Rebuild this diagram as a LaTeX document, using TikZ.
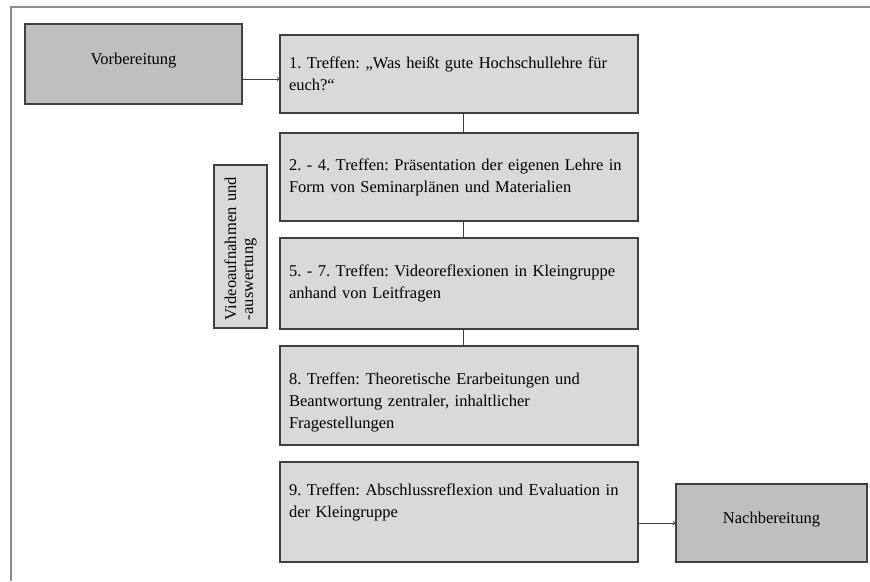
\documentclass[tikz,border=0pt]{standalone}
\usepackage{fontspec}
\setmainfont{Liberation Serif}
\frenchspacing

\definecolor{phasegray}{HTML}{BFBFBF}
\definecolor{meetgray}{HTML}{D9D9D9}
\definecolor{edgegray}{HTML}{404040}
\definecolor{framegray}{HTML}{8C8C8C}

\begin{document}
\begin{tikzpicture}[
        x=1pt,y=-1pt,
        every node/.style={font={\fontsize{16.5}{22}\selectfont}},
        phase/.style={draw=edgegray,fill=phasegray,line width=1.2pt,
                    inner sep=0pt,text depth=11pt},
        meeting/.style={draw=edgegray,fill=meetgray,line width=1.2pt,
                    text width=340pt,inner xsep=9pt,inner ysep=0pt,
                    align=left,minimum width=358pt},
        link/.style={edgegray,line width=.8pt}
        ]

        \useasboundingbox (0,0) rectangle (870,581);
        % Frame (only top and left edge visible)
        \draw[framegray,line width=2pt](870,7)--(11,7)--(11,581);

        % Preparation and follow-up
        \node[phase,minimum width=217pt,minimum height=80pt] (vorb) at (133.5,64) {Vorbereitung};
        \node[phase,minimum width=191pt,minimum height=78pt] (nach) at (771.5,523) {Nachbereitung};

        % Meetings
        \node[meeting,minimum height=78pt] (t1) at (459,74)
            {1. Treffen: „Was heißt gute Hochschullehre für\\euch?“};
        \node[meeting,minimum height=88pt] (t2) at (459,177)
            {2. - 4. Treffen: Präsentation der eigenen Lehre in\\Form von Seminarplänen und Materialien};
        \node[meeting,minimum height=91pt] (t3) at (459,283.5)
            {5. - 7. Treffen: Videoreflexionen in Kleingruppe\\anhand von Leitfragen};
        \node[meeting,minimum height=99pt] (t4) at (459,395.5)
            {\rule{0pt}{26pt}8. Treffen: Theoretische Erarbeitungen und\\Beantwortung zentraler, inhaltlicher\\Fragestellungen};
        \node[meeting,minimum height=100pt] (t5) at (459,512)
            {9. Treffen: Abschlussreflexion und Evaluation in\\der Kleingruppe\rule[-23.5pt]{0pt}{23.5pt}};

        % Video recording (side box)
        \node[draw=edgegray,fill=meetgray,line width=1.2pt,rotate=90,
              font={\fontsize{16.5}{17}\selectfont},
              minimum width=163pt,minimum height=53pt,inner xsep=8pt,inner ysep=0pt,
              text width=147pt,align=left] (video) at (240.5,246.5)
            {Videoaufnahmen und\\-auswertung};

        % Connectors
        \draw[link,->]([yshift=-15pt]vorb.east)--([yshift=-15pt]vorb.east -| t1.west);
        \draw[link]([xshift=4pt]t1.south)--([xshift=4pt]t2.north);
        \draw[link]([xshift=4pt]t2.south)--([xshift=4pt]t3.north);
        \draw[link]([xshift=4pt]t3.south)--([xshift=4pt]t4.north);
        \draw[link,->](t5.east |- nach.west)--(nach.west);
    \end{tikzpicture}
\end{document}
